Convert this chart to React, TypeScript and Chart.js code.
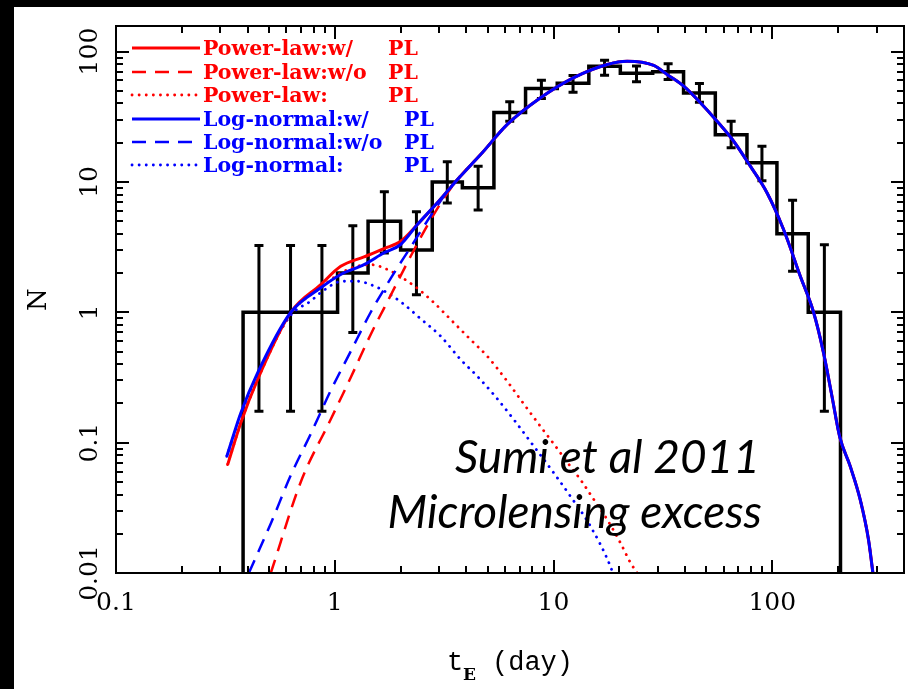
import React, { useEffect, useRef } from 'react';
import { Chart, registerables } from 'chart.js';

Chart.register(...registerables);

const WIDTH = 908;
const HEIGHT = 689;
const RED = '#ff0000';
const BLUE = '#0000ff';

// Event-timescale histogram: log-spaced bin edges (days), counts and 1-sigma limits
const binEdges = [0.381, 0.532, 0.741, 1.03, 1.42, 2.0, 2.79, 3.83, 5.34, 7.45, 10.4, 14.5, 20.2, 28.4, 39.3, 54.9, 76.6, 105, 146, 205];
const counts = [1, 1, 1, 2, 5, 3, 10, 9, 34, 52, 57, 77, 68, 70, 48, 23, 14, 4, 1];
const errLow = [0.174, 0.174, 0.174, 0.7, 2.85, 1.36, 6.9, 6.1, 29.2, 43.7, 48.8, 65.9, 58.7, 61, 40.9, 18.3, 10.2, 2.06, 0.174];
const errHigh = [3.25, 3.25, 3.25, 4.6, 8.4, 5.9, 14.3, 13.2, 41.2, 60.3, 65.6, 85.9, 77.3, 80.6, 56.9, 29.2, 18.8, 7.24, 3.3];

// Full model fits, short-timescale part (power-law / log-normal mass functions)
const plHeadT = [0.324, 0.372, 0.444, 0.63, 0.863, 1.065, 1.361, 1.68, 2.0, 2.386, 2.986, 3.634, 4.642];
const plHeadN = [0.0678, 0.142, 0.305, 1.0, 1.63, 2.25, 2.66, 3.08, 3.5, 4.71, 7.1, 10.4, 16.2];
const lnHeadT = [0.321, 0.372, 0.444, 0.63, 0.863, 1.065, 1.361, 1.68, 2.0, 2.386, 2.986, 3.634, 4.642];
const lnHeadN = [0.0785, 0.169, 0.343, 1.0, 1.54, 1.95, 2.32, 2.86, 3.31, 4.71, 7.1, 10.4, 16.2];

// Fits without the planetary-mass population
const plNoPlT = [0.51, 0.7, 0.959, 1.183, 1.46, 1.802, 2.223, 2.744, 3.386, 3.964, 4.642];
const plNoPlN = [0.01, 0.0501, 0.151, 0.316, 0.676, 1.35, 2.69, 5.13, 8.91, 12.3, 16.2];
const lnNoPlT = [0.4048, 0.5102, 0.6295, 0.777, 0.9588, 1.183, 1.46, 1.802, 2.223, 2.744, 3.386, 3.964, 4.642];
const lnNoPlN = [0.01, 0.024, 0.0562, 0.117, 0.251, 0.501, 1.0, 1.82, 3.16, 5.5, 9.12, 12.3, 16.2];

// Long-timescale part shared by all four fits
const tailT = [6.147, 8.723, 12.38, 17.59, 21.7, 28.71, 33.05, 39.36, 46.92, 55.92, 66.58, 79.35, 94.58, 112.6, 134.3, 154.4, 171.5, 187.4, 203.0, 227.1, 252.3, 275.3, 288.4];
const tailN = [27.6, 44.2, 63.1, 79.6, 84.4, 78.2, 66.7, 54.3, 40.5, 29.2, 20.5, 13.2, 8.25, 4.31, 1.89, 1.0, 0.488, 0.227, 0.112, 0.0658, 0.0365, 0.018, 0.01];

// Planetary-mass (PL) component on its own
const plOnlyT = [0.3236, 0.372, 0.4436, 0.6295, 0.8631, 1.065, 1.247, 1.46, 1.74, 2.264, 2.744, 3.505, 4.178, 4.982, 6.147, 7.069, 8.723, 10.03, 11.55, 13.28, 15.28, 17.59, 20.23, 22.47, 24.11];
const plOnlyN = [0.0678, 0.142, 0.305, 0.97, 1.55, 2.0, 2.24, 2.32, 2.13, 1.63, 1.25, 0.83, 0.617, 0.459, 0.295, 0.214, 0.133, 0.0977, 0.0708, 0.052, 0.0366, 0.0257, 0.017, 0.012, 0.01];
const lnOnlyT = [0.321, 0.372, 0.4436, 0.6295, 0.777, 0.8787, 1.084, 1.27, 1.46, 1.74, 2.072, 2.47, 3.048, 3.762, 4.482, 5.339, 6.588, 8.128, 10.03, 11.96, 14.76, 18.21, 18.9];
const lnOnlyN = [0.0785, 0.165, 0.335, 0.95, 1.22, 1.45, 1.73, 1.73, 1.63, 1.41, 1.15, 0.891, 0.655, 0.434, 0.323, 0.233, 0.15, 0.0938, 0.0585, 0.0387, 0.0228, 0.0112, 0.0093];

// Axis labelling
const xTickValues = [0.1, 1, 10, 100];
const xTickLabels = ['0.1', '1', '10', '100'];
const yTickValues = [0.01, 0.1, 1, 10, 100];
const yTickLabels = ['0.01', '0.1', '1', '10', '100'];
const X_MIN = 0.1;
const X_MAX = 400;
const Y_MIN = 0.01;
const Y_MAX = 157;

// Legend rows: [name, suffix]
const legendNames = ['Power-law:w/', 'Power-law:w/o', 'Power-law:', 'Log-normal:w/', 'Log-normal:w/o', 'Log-normal:'];
const legendSuffix = 'PL';
const noteLines = ['Sumi et al 2011', 'Microlensing excess'];

const DASH = [14, 9];
const DOT = [0.1, 7];

const pts = (t: number[], n: number[]) => t.map((x, i) => ({ x, y: n[i] }));

function histogramPoints() {
  const out = [{ x: binEdges[0], y: Y_MIN }];
  counts.forEach((c, i) => out.push({ x: binEdges[i], y: c }));
  out.push({ x: binEdges[binEdges.length - 1], y: Y_MIN });
  return out;
}

function minorTicks(lo: number, hi: number) {
  const out: number[] = [];
  for (let d = lo; d < hi; d *= 10) {
    for (let k = 2; k <= 9; k++) {
      const v = k * d;
      if (v < hi) out.push(v);
    }
  }
  return out;
}

const decorPlugin = {
  id: 'decor',
  beforeDraw(chart: any) {
    const ctx = chart.ctx;
    ctx.save();
    ctx.fillStyle = '#000';
    ctx.fillRect(0, 0, WIDTH, HEIGHT);
    ctx.fillStyle = '#fff';
    ctx.fillRect(14, 7, WIDTH - 14, HEIGHT - 7);
    ctx.restore();
  },
  beforeDatasetsDraw(chart: any) {
    const ctx = chart.ctx;
    const xs = chart.scales.x;
    const ys = chart.scales.y;
    ctx.save();
    ctx.strokeStyle = '#000';
    ctx.lineWidth = 3;
    ctx.lineCap = 'butt';
    for (let i = 0; i < counts.length; i++) {
      const xc = Math.sqrt(binEdges[i] * binEdges[i + 1]);
      const px = xs.getPixelForValue(xc);
      const yLo = ys.getPixelForValue(errLow[i]);
      const yHi = ys.getPixelForValue(errHigh[i]);
      ctx.beginPath();
      ctx.moveTo(px, yLo);
      ctx.lineTo(px, yHi);
      ctx.moveTo(px - 4.5, yLo);
      ctx.lineTo(px + 4.5, yLo);
      ctx.moveTo(px - 4.5, yHi);
      ctx.lineTo(px + 4.5, yHi);
      ctx.stroke();
    }
    ctx.restore();
  },
  afterDatasetsDraw(chart: any) {
    const ctx = chart.ctx;
    const xs = chart.scales.x;
    const ys = chart.scales.y;
    const { left, right, top, bottom } = chart.chartArea;
    ctx.save();
    ctx.strokeStyle = '#000';
    ctx.lineWidth = 2;
    ctx.strokeRect(left, top, right - left, bottom - top);

    const MAJ = 13;
    const MIN = 7;
    ctx.beginPath();
    const xt = (v: number, len: number) => {
      const p = Math.round(xs.getPixelForValue(v));
      ctx.moveTo(p, bottom);
      ctx.lineTo(p, bottom - len);
      ctx.moveTo(p, top);
      ctx.lineTo(p, top + len);
    };
    const yt = (v: number, len: number) => {
      const p = Math.round(ys.getPixelForValue(v));
      ctx.moveTo(left, p);
      ctx.lineTo(left + len, p);
      ctx.moveTo(right, p);
      ctx.lineTo(right - len, p);
    };
    xTickValues.forEach((v) => xt(v, MAJ));
    minorTicks(X_MIN, X_MAX).forEach((v) => xt(v, MIN));
    yTickValues.forEach((v) => yt(v, MAJ));
    minorTicks(Y_MIN, Y_MAX).forEach((v) => yt(v, MIN));
    ctx.stroke();

    // tick labels
    ctx.fillStyle = '#000';
    ctx.font = "25px 'DejaVu Serif'";
    ctx.textAlign = 'center';
    ctx.textBaseline = 'alphabetic';
    xTickValues.forEach((v, i) => {
      ctx.fillText(xTickLabels[i], xs.getPixelForValue(v), 610);
    });
    yTickValues.forEach((v, i) => {
      ctx.save();
      ctx.translate(97, ys.getPixelForValue(v));
      ctx.rotate(-Math.PI / 2);
      ctx.fillText(yTickLabels[i], 0, 0);
      ctx.restore();
    });

    // axis titles
    ctx.save();
    ctx.font = "26px 'DejaVu Serif'";
    ctx.translate(46, (top + bottom) / 2);
    ctx.rotate(-Math.PI / 2);
    ctx.fillText('N', 0, 0);
    ctx.restore();

    ctx.textAlign = 'left';
    ctx.font = "27px 'Liberation Mono'";
    ctx.fillText('t', 447, 670);
    ctx.font = "bold 17px 'DejaVu Serif'";
    ctx.fillText('E', 463, 680);
    ctx.font = "27px 'Liberation Mono'";
    ctx.fillText('(day)', 492, 670);

    // legend
    const rowBase = [55, 79, 102, 126, 149, 172];
    const ds = chart.data.datasets;
    const legendOrder = [1, 3, 5, 0, 2, 4];
    ctx.font = "bold 20.5px 'DejaVu Serif'";
    legendNames.forEach((name, i) => {
      const d = ds[legendOrder[i]];
      const yb = rowBase[i];
      const yl = yb - 7;
      ctx.save();
      ctx.strokeStyle = d.borderColor;
      ctx.lineWidth = d.borderWidth;
      ctx.setLineDash(d.borderDash || []);
      ctx.lineCap = d.borderCapStyle || 'butt';
      ctx.beginPath();
      ctx.moveTo(132, yl);
      ctx.lineTo(200, yl);
      ctx.stroke();
      ctx.restore();
      ctx.fillStyle = d.borderColor;
      ctx.fillText(name, 203, yb);
      ctx.fillText(legendSuffix, i < 3 ? 388 : 404, yb);
    });

    // note
    ctx.fillStyle = '#000';
    ctx.textAlign = 'right';
    ctx.font = "italic 46px Lato";
    ctx.fillText(noteLines[0], 760, 473);
    ctx.fillText(noteLines[1], 762, 528);
    ctx.restore();
  },
};

export default function App() {
  const ref = useRef<HTMLCanvasElement | null>(null);

  useEffect(() => {
    if (!ref.current) return;
    const common = {
      pointRadius: 0,
      pointHoverRadius: 0,
      fill: false,
      clip: 0,
      cubicInterpolationMode: 'monotone' as const,
    };
    const chart = new Chart(ref.current, {
      type: 'line',
      data: {
        datasets: [
          { ...common, label: 'Log-normal:w/ PL', data: pts([...lnHeadT, ...tailT], [...lnHeadN, ...tailN]), borderColor: BLUE, borderWidth: 3, order: 0 },
          { ...common, label: 'Power-law:w/ PL', data: pts([...plHeadT, ...tailT], [...plHeadN, ...tailN]), borderColor: RED, borderWidth: 3, order: 1 },
          { ...common, label: 'Log-normal:w/o PL', data: pts([...lnNoPlT, ...tailT], [...lnNoPlN, ...tailN]), borderColor: BLUE, borderWidth: 2.5, borderDash: DASH, order: 2 },
          { ...common, label: 'Power-law:w/o PL', data: pts([...plNoPlT, ...tailT], [...plNoPlN, ...tailN]), borderColor: RED, borderWidth: 2.5, borderDash: DASH, order: 3 },
          { ...common, label: 'Log-normal: PL', data: pts(lnOnlyT, lnOnlyN), borderColor: BLUE, borderWidth: 2.8, borderDash: DOT, borderCapStyle: 'round', order: 4 },
          { ...common, label: 'Power-law: PL', data: pts(plOnlyT, plOnlyN), borderColor: RED, borderWidth: 2.8, borderDash: DOT, borderCapStyle: 'round', order: 5 },
          { ...common, label: 'N', data: histogramPoints(), borderColor: '#000', borderWidth: 3.5, stepped: true, borderJoinStyle: 'miter', order: 6 },
        ] as any,
      },
      options: {
        responsive: false,
        animation: false,
        devicePixelRatio: 1,
        events: [],
        layout: { padding: { left: 116, top: 26, right: 4, bottom: 116 } },
        scales: {
          x: { type: 'logarithmic', min: X_MIN, max: X_MAX, display: false },
          y: { type: 'logarithmic', min: Y_MIN, max: Y_MAX, display: false },
        },
        plugins: { legend: { display: false }, tooltip: { enabled: false } },
      },
      plugins: [decorPlugin],
    });
    return () => chart.destroy();
  }, []);

  return (
    <div style={{ position: 'fixed', left: 0, top: 0, width: WIDTH, height: HEIGHT, background: '#000' }}>
      <canvas ref={ref} width={WIDTH} height={HEIGHT} style={{ display: 'block' }} />
    </div>
  );
}
